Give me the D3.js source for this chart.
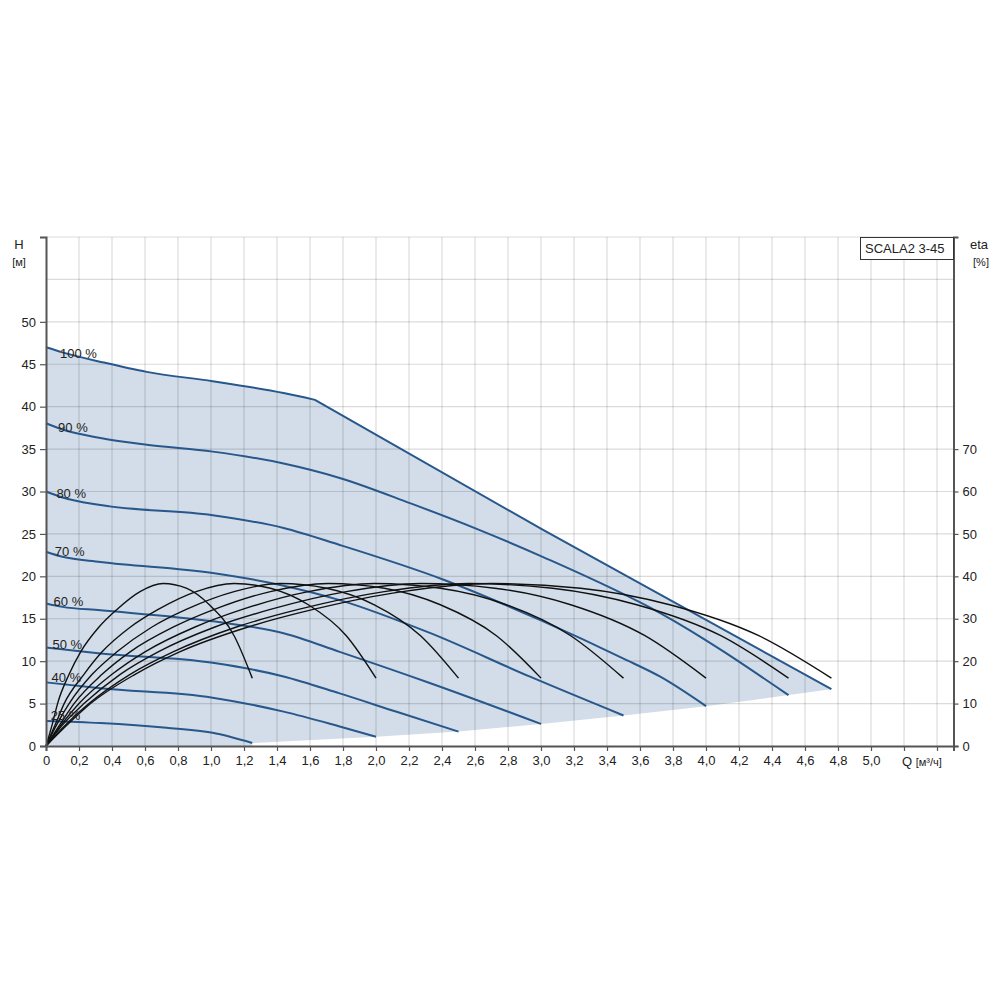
<!DOCTYPE html>
<html>
<head>
<meta charset="utf-8">
<script src="https://cdn.jsdelivr.net/npm/d3@7"></script>
<style>
  body { margin: 0; background: #fff; }
  svg { display: block; }
  text { font-family: "Liberation Sans", Arial, sans-serif; fill: #222; }
</style>
</head>
<body>
<div id="chart"></div>
<script>
const width = 1000;
const height = 1000;

// tick labels
const qTicks = [0, 0.2, 0.4, 0.6, 0.8, 1.0, 1.2, 1.4, 1.6, 1.8, 2.0, 2.2, 2.4, 2.6, 2.8,
                3.0, 3.2, 3.4, 3.6, 3.8, 4.0, 4.2, 4.4, 4.6, 4.8, 5.0];
const qGrid = [0.2, 0.4, 0.6, 0.8, 1.0, 1.2, 1.4, 1.6, 1.8, 2.0, 2.2, 2.4, 2.6, 2.8,
               3.0, 3.2, 3.4, 3.6, 3.8, 4.0, 4.2, 4.4, 4.6, 4.8, 5.0, 5.2, 5.4];
const hTicks = [0, 5, 10, 15, 20, 25, 30, 35, 40, 45, 50];
const hGrid = [5, 10, 15, 20, 25, 30, 35, 40, 45, 50, 55, 60];
const etaTicks = [0, 10, 20, 30, 40, 50, 60, 70];

// pump curves H [m] vs Q [m3/h], one per speed
const speeds = ["100 %", "90 %", "80 %", "70 %", "60 %", "50 %", "40 %", "25 %"];
// 100% curve: smooth part up to the power limit kink, then a straight limit line
const p100 = [[0, 47.0], [0.1, 46.4], [0.35, 45.2], [0.61, 44.1], [1.01, 43.0], [1.44, 41.6],
              [1.63, 40.8], [3.01, 25.5], [4.76, 6.7]];
const p100Kink = 1.63;
const p90 = [[0, 38.05], [0.1, 37.3], [0.33, 36.3], [0.61, 35.5], [1.01, 34.7], [1.44, 33.3],
             [1.78, 31.6], [2.21, 28.6], [2.61, 25.6], [3.01, 22.3], [3.72, 15.7], [4.5, 6.0]];
const p80 = [[0, 30.0], [0.1, 29.3], [0.33, 28.4], [1.01, 27.2], [1.44, 25.7], [1.78, 23.7],
             [2.41, 19.6], [3.0, 14.8], [3.5, 10.3], [3.72, 8.2], [4.0, 4.7]];
const p70 = [[0, 22.9], [0.1, 22.3], [0.33, 21.7], [1.01, 20.4], [1.44, 18.9], [1.78, 17.2],
             [2.33, 13.3], [2.93, 8.2], [3.5, 3.6]];
const p60 = [[0, 16.8], [0.1, 16.4], [0.33, 16.0], [1.01, 14.7], [1.44, 13.3], [1.78, 11.1],
             [2.33, 7.4], [3.0, 2.6]];
const p50 = [[0, 11.6], [0.33, 10.9], [1.01, 9.8], [1.44, 8.2], [1.78, 6.2], [2.13, 4.0], [2.5, 1.7]];
const p40 = [[0, 7.5], [0.33, 6.8], [1.01, 5.7], [1.44, 4.05], [1.78, 2.3], [2.0, 1.1]];
const p25 = [[0, 2.95], [0.33, 2.7], [0.73, 2.15], [1.01, 1.55], [1.25, 0.35]];
const pumpCurves = [p100, p90, p80, p70, p60, p50, p40, p25];

// efficiency curves eta [%] vs Q [m3/h]
const e1 = [[0, 0], [0.04, 5.4], [0.07, 10.0], [0.14, 16.9], [0.21, 22.2], [0.32, 28.0], [0.43, 32.2],
            [0.57, 36.4], [0.71, 38.3], [0.85, 37.2], [0.99, 33.3], [1.14, 26.0], [1.25, 16.0]];
const e2 = [[0, 0], [0.06, 5.4], [0.11, 10.0], [0.23, 16.9], [0.34, 22.2], [0.51, 28.0], [0.68, 32.2],
            [0.91, 36.4], [1.14, 38.3], [1.36, 37.2], [1.59, 33.3], [1.82, 26.0], [2.0, 16.0]];
const e3 = [[0, 0], [0.07, 5.4], [0.14, 10.0], [0.28, 16.9], [0.43, 22.2], [0.64, 28.0], [0.85, 32.2],
            [1.14, 36.4], [1.42, 38.3], [1.70, 37.2], [1.99, 33.3], [2.27, 26.0], [2.5, 16.0]];
const e4 = [[0, 0], [0.09, 5.4], [0.17, 10.0], [0.34, 16.9], [0.51, 22.2], [0.77, 28.0], [1.02, 32.2],
            [1.36, 36.4], [1.71, 38.3], [2.05, 37.2], [2.39, 33.3], [2.73, 26.0], [3.0, 16.0]];
const e5 = [[0, 0], [0.10, 5.4], [0.20, 10.0], [0.40, 16.9], [0.60, 22.2], [0.90, 28.0], [1.19, 32.2],
            [1.59, 36.4], [1.99, 38.3], [2.39, 37.2], [2.79, 33.3], [3.18, 26.0], [3.5, 16.0]];
const e6 = [[0, 0], [0.11, 5.4], [0.23, 10.0], [0.45, 16.9], [0.68, 22.2], [1.02, 28.0], [1.36, 32.2],
            [1.82, 36.4], [2.27, 38.3], [2.72, 37.2], [3.18, 33.3], [3.63, 26.0], [4.0, 16.0]];
const e7 = [[0, 0], [0.13, 5.4], [0.26, 10.0], [0.51, 16.9], [0.77, 22.2], [1.15, 28.0], [1.53, 32.2],
            [2.05, 36.4], [2.56, 38.3], [3.07, 37.2], [3.58, 33.3], [4.09, 26.0], [4.5, 16.0]];
const e8 = [[0, 0], [0.14, 5.4], [0.27, 10.0], [0.54, 16.9], [0.81, 22.2], [1.22, 28.0], [1.62, 32.2],
            [2.16, 36.4], [2.70, 38.3], [3.24, 37.2], [3.78, 33.3], [4.32, 26.0], [4.76, 16.0]];
const etaCurves = [e1, e2, e3, e4, e5, e6, e7, e8];

const pumpName = "SCALA2 3-45";

// layout
const margin = { left: 46, right: 47, top: 237, bottom: 254 };
const x = d3.scaleLinear().domain([0, 5.5]).range([margin.left, width - margin.right + 0.5]);
const y = d3.scaleLinear().domain([0, 60]).range([height - margin.bottom, margin.top]);
const yEta = d3.scaleLinear().domain([0, 120]).range([height - margin.bottom, margin.top]);

const locale = d3.formatLocale({ decimal: ",", thousands: " ", grouping: [3], currency: ["", ""] });
const fmtQ = locale.format(".1f");

const svg = d3.select("#chart").append("svg")
    .attr("width", width)
    .attr("height", height);

const blue = "#27578b";

const linePump = d3.line()
    .x(d => x(d[0]))
    .y(d => y(d[1]))
    .curve(d3.curveMonotoneX);

const lineEta = d3.line()
    .x(d => x(d[0]))
    .y(d => yEta(d[1]))
    .curve(d3.curveMonotoneX);

// smooth up to the kink, straight after it (only the 100% curve has one)
function pumpPath(c) {
    if (c !== p100) return linePump(c);
    const head = c.filter(d => d[0] <= p100Kink);
    const tail = c.filter(d => d[0] > p100Kink);
    return linePump(head) + tail.map(d => "L" + x(d[0]) + "," + y(d[1])).join("");
}

// shaded operating range: top = 100% curve, bottom = ends of the lower speed curves
let rangePath = pumpPath(p100);
pumpCurves.slice(1).forEach(c => {
    const last = c[c.length - 1];
    rangePath += "L" + x(last[0]) + "," + y(last[1]);
});
const lastLow = p25[p25.length - 1];
rangePath += "L" + x(lastLow[0]) + "," + y(0) + "L" + x(0) + "," + y(0) + "Z";

svg.append("path")
    .attr("d", rangePath)
    .attr("fill", "#d2dde9");

// grid
const grid = svg.append("g").attr("class", "grid");
grid.selectAll("line.v")
    .data(qGrid)
    .enter().append("line")
    .attr("class", "v")
    .attr("x1", d => x(d)).attr("x2", d => x(d))
    .attr("y1", y(0)).attr("y2", y(60))
    .attr("stroke", "rgba(0,0,0,0.14)")
    .attr("stroke-width", 1.2);
grid.selectAll("line.h")
    .data(hGrid)
    .enter().append("line")
    .attr("class", "h")
    .attr("x1", x(0)).attr("x2", x(5.5))
    .attr("y1", d => y(d)).attr("y2", d => y(d))
    .attr("stroke", "rgba(0,0,0,0.14)")
    .attr("stroke-width", 1.2);

// pump curves
svg.append("g").selectAll("path")
    .data(pumpCurves)
    .enter().append("path")
    .attr("d", d => pumpPath(d))
    .attr("fill", "none")
    .attr("stroke", blue)
    .attr("stroke-width", 2)
    .attr("stroke-linejoin", "round");

// efficiency curves
svg.append("g").selectAll("path")
    .data(etaCurves)
    .enter().append("path")
    .attr("d", d => lineEta(d))
    .attr("fill", "none")
    .attr("stroke", "#111")
    .attr("stroke-width", 1.4);

// speed labels near the start of each curve
svg.append("g").selectAll("text")
    .data(pumpCurves)
    .enter().append("text")
    .attr("x", d => x(0) + 4 + 10 * d[0][1] / 47)
    .attr("y", d => y(d[0][1]) - 2 + 13 * d[0][1] / 47)
    .attr("font-size", 13)
    .text((d, i) => speeds[i]);

// axes
const axisColor = "#555";

const xAxis = svg.append("g")
    .attr("transform", "translate(0," + y(0) + ")")
    .call(d3.axisBottom(x).tickValues(qTicks.concat([5.2, 5.4]))
        .tickSize(5).tickPadding(5)
        .tickFormat(d => d > 5.01 ? "" : (d === 0 ? "0" : fmtQ(d))));

const yAxis = svg.append("g")
    .attr("transform", "translate(" + x(0) + ",0)")
    .call(d3.axisLeft(y).tickValues(hTicks).tickSize(6).tickPadding(4).tickFormat(d3.format("d")));

const etaAxis = svg.append("g")
    .attr("transform", "translate(" + x(5.5) + ",0)")
    .call(d3.axisRight(yEta).tickValues(etaTicks).tickSize(5).tickPadding(4).tickFormat(d3.format("d")));

[xAxis, yAxis, etaAxis].forEach(a => {
    a.select(".domain").attr("stroke", axisColor).attr("stroke-width", 2);
    a.selectAll(".tick line").attr("stroke", axisColor).attr("stroke-width", 1.2);
    a.selectAll(".tick text")
        .attr("font-size", 13)
        .attr("font-family", "Liberation Sans, Arial, sans-serif")
        .attr("fill", "#222");
});

// axis titles
svg.append("text")
    .attr("x", 19).attr("y", y(60) + 12)
    .attr("text-anchor", "middle")
    .attr("font-size", 13)
    .text("H");
svg.append("text")
    .attr("x", 19).attr("y", y(60) + 29)
    .attr("text-anchor", "middle")
    .attr("font-size", 11)
    .text("[м]");

svg.append("text")
    .attr("x", 979).attr("y", y(60) + 12)
    .attr("text-anchor", "middle")
    .attr("font-size", 13)
    .text("eta");
svg.append("text")
    .attr("x", 981).attr("y", y(60) + 29)
    .attr("text-anchor", "middle")
    .attr("font-size", 11)
    .text("[%]");

const qLabel = svg.append("text")
    .attr("x", x(5.2) - 2)
    .attr("y", y(0) + 20)
    .attr("font-size", 13);
qLabel.append("tspan").text("Q ");
qLabel.append("tspan").attr("font-size", 11).text("[м³/ч]");

// legend box with pump name
const legend = svg.append("g");
legend.append("rect")
    .attr("x", 860.5).attr("y", y(60) + 0.5)
    .attr("width", x(5.5) - 860.5).attr("height", 22)
    .attr("fill", "#fff")
    .attr("stroke", "#333")
    .attr("stroke-width", 1);
legend.append("text")
    .attr("x", 865).attr("y", y(60) + 16)
    .attr("font-size", 13)
    .text(pumpName);
</script>
</body>
</html>
